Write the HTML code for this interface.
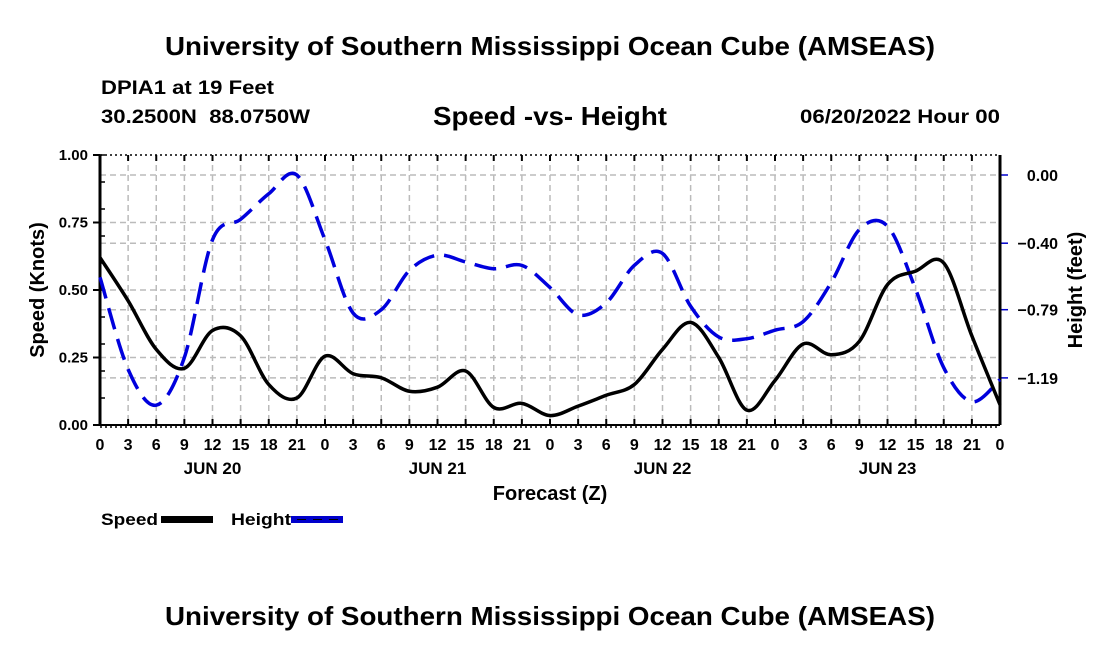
<!DOCTYPE html>
<html><head><meta charset="utf-8"><style>
body{margin:0;background:#fff;}
svg text{font-family:"Liberation Sans",sans-serif;font-weight:bold;fill:#000;}
</style></head><body>
<svg id="chart" width="1100" height="650" viewBox="0 0 1100 650">
<text x="165" y="55" font-size="26" textLength="770" lengthAdjust="spacingAndGlyphs">University of Southern Mississippi Ocean Cube (AMSEAS)</text>
<text x="101" y="94" font-size="19" textLength="173" lengthAdjust="spacingAndGlyphs">DPIA1 at 19 Feet</text>
<text x="101" y="123" font-size="19" textLength="209" lengthAdjust="spacingAndGlyphs" xml:space="preserve">30.2500N  88.0750W</text>
<text x="433" y="125" font-size="26" textLength="234" lengthAdjust="spacingAndGlyphs">Speed -vs- Height</text>
<text x="800" y="123" font-size="19" textLength="200" lengthAdjust="spacingAndGlyphs">06/20/2022 Hour 00</text>
<g id="grid"></g>
<g id="axes"></g>
<g id="series"></g>
<text transform="translate(44,290) rotate(-90)" font-size="20" text-anchor="middle">Speed (Knots)</text>
<text transform="translate(1082,290) rotate(-90)" font-size="20" text-anchor="middle">Height (feet)</text>
<text x="550" y="500" font-size="20" text-anchor="middle">Forecast (Z)</text>
<g>
<text x="101" y="525" font-size="17" textLength="57" lengthAdjust="spacingAndGlyphs">Speed</text>
<rect x="161" y="516" width="52" height="7" fill="#000"/>
<text x="231" y="525" font-size="17" textLength="60" lengthAdjust="spacingAndGlyphs">Height</text>
<rect x="291" y="516" width="52" height="7" fill="#0000cc"/>
<line x1="291" y1="519.5" x2="343" y2="519.5" stroke="#000" stroke-width="1" stroke-dasharray="9,7" stroke-dashoffset="-6"/>
</g>
<text x="165" y="625" font-size="26" textLength="770" lengthAdjust="spacingAndGlyphs">University of Southern Mississippi Ocean Cube (AMSEAS)</text>
</svg>
<script>
const hours=[0,3,6,9,12,15,18,21,24,27,30,33,36,39,42,45,48,51,54,57,60,63,66,69,72,75,78,81,84,87,90,93,96];
const speed=[0.62,0.46,0.28,0.21,0.35,0.33,0.15,0.10,0.255,0.19,0.175,0.125,0.14,0.20,0.065,0.08,0.035,0.07,0.11,0.15,0.28,0.38,0.25,0.055,0.165,0.30,0.26,0.31,0.52,0.57,0.60,0.33,0.075];
const height=[-0.60,-1.14,-1.35,-1.07,-0.38,-0.26,-0.11,0.00,-0.38,-0.81,-0.79,-0.56,-0.47,-0.51,-0.55,-0.53,-0.66,-0.82,-0.75,-0.53,-0.46,-0.77,-0.95,-0.96,-0.91,-0.86,-0.63,-0.32,-0.30,-0.67,-1.13,-1.33,-1.20];
const speedTicks=["0.00","0.25","0.50","0.75","1.00"];
const heightTicks=["0.00","-0.40","-0.79","-1.19"];
const dayLabels=["JUN 20","JUN 21","JUN 22","JUN 23"];

const NS="http://www.w3.org/2000/svg";
const X0=100,X1=1000,Y0=425,Y1=155;
const xs=h=>X0+h/96*(X1-X0);
const ys=v=>Y0-v*(Y0-Y1);
const yh=v=>175-v*170.5;
function mk(tag,attrs,parent){const e=document.createElementNS(NS,tag);for(const k in attrs)e.setAttribute(k,attrs[k]);parent.appendChild(e);return e;}
const grid=document.getElementById('grid'),axes=document.getElementById('axes'),series=document.getElementById('series');
for(let h=0;h<=96;h+=3){
  const x=xs(h);
  if(h>0&&h<96){const g=mk('line',{x1:x,y1:Y1,x2:x,y2:Y0,stroke:'#bbb','stroke-width':1.5,'stroke-dasharray':'6,4'},grid);
  
  }
  mk('line',{x1:x,y1:Y0,x2:x,y2:Y0-6,stroke:'#000','stroke-width':2},axes);
  mk('line',{x1:x,y1:Y1,x2:x,y2:Y1+6,stroke:'#000','stroke-width':2},axes);
  const t=mk('text',{x:x,y:450,'font-size':16,'text-anchor':'middle'},axes);
  t.textContent=String(h%24);
  
  
}
dayLabels.forEach((d,i)=>{const t=mk('text',{x:xs(12+24*i),y:474,'font-size':17,'text-anchor':'middle'},axes);t.textContent=d;
  
  });
speedTicks.forEach(s=>{const v=parseFloat(s),y=ys(v);
  if(v>0&&v<1){const g=mk('line',{x1:X0,y1:y,x2:X1,y2:y,stroke:'#bbb','stroke-width':1.5,'stroke-dasharray':'6,4'},grid);
  
  }
  mk('line',{x1:X0-7,y1:y,x2:X0,y2:y,stroke:'#000','stroke-width':2},axes);
  const t=mk('text',{x:X0-12,y:y+5,'font-size':15,'text-anchor':'end'},axes);t.textContent=s;
  
  });
for(let v=0.1;v<1;v+=0.1){const y=ys(v);mk('line',{x1:X0,y1:y,x2:X0+5,y2:y,stroke:'#000','stroke-width':1.5},axes);}
heightTicks.forEach(s=>{const v=parseFloat(s),y=yh(v);
  const g=mk('line',{x1:X0,y1:y,x2:X1,y2:y,stroke:'#bbb','stroke-width':1.5,'stroke-dasharray':'6,4'},grid);
  
  
  mk('line',{x1:X1,y1:y,x2:X1+8,y2:y,stroke:'#0000cc','stroke-width':1.5},axes);
  const t=mk('text',{x:1058,y:y+6,'font-size':16,'text-anchor':'end'},axes);t.textContent=s.replace('-','\u2212');
  
  });
mk('line',{x1:X0,y1:Y1,x2:X1,y2:Y1,stroke:'#000','stroke-width':1.5,'stroke-dasharray':'2,3'},axes);
mk('line',{x1:X0,y1:Y0,x2:X1,y2:Y0,stroke:'#000','stroke-width':2},axes);
mk('line',{x1:X0,y1:Y0+2,x2:X1,y2:Y0+2,stroke:'#000','stroke-width':1.5,'stroke-dasharray':'2,3'},axes);
mk('line',{x1:X0,y1:Y1,x2:X0,y2:Y0,stroke:'#000','stroke-width':3},axes);
mk('line',{x1:X1,y1:Y1,x2:X1,y2:Y0,stroke:'#000','stroke-width':3},axes);
function smooth(pts){let d='M'+pts[0][0]+','+pts[0][1];
  for(let i=0;i<pts.length-1;i++){const p0=pts[Math.max(0,i-1)],p1=pts[i],p2=pts[i+1],p3=pts[Math.min(pts.length-1,i+2)];
    const c1=[p1[0]+(p2[0]-p0[0])/6,p1[1]+(p2[1]-p0[1])/6],c2=[p2[0]-(p3[0]-p1[0])/6,p2[1]-(p3[1]-p1[1])/6];
    d+=' C'+c1.join(',')+' '+c2.join(',')+' '+p2.join(',');}
  return d;}
const hp=mk('path',{d:smooth(hours.map((h,i)=>[xs(h),yh(height[i])])),fill:'none',stroke:'#0000dd','stroke-width':3.5,'stroke-dasharray':'22,10'},series);


const sp=mk('path',{d:smooth(hours.map((h,i)=>[xs(h),ys(speed[i])])),fill:'none',stroke:'#000','stroke-width':3.5},series);


</script>
</body></html>
